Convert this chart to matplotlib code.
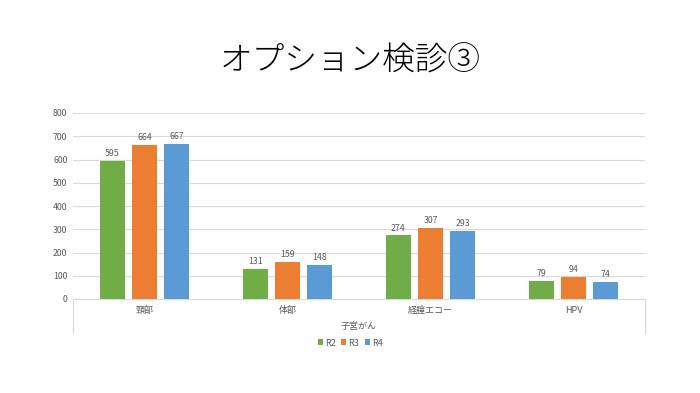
import numpy as np
import matplotlib
matplotlib.use('Agg')
import matplotlib.pyplot as plt

plt.rcParams['font.family'] = ['Noto Sans CJK JP', 'DejaVu Sans']

categories = ['頸部', '体部', '経膣エコー', 'HPV']
series = ['R2', 'R3', 'R4']
r2 = [595, 131, 274, 79]
r3 = [664, 159, 307, 94]
r4 = [667, 148, 293, 74]
colors = ['#70ad47', '#ed7d31', '#5b9bd5']
title = 'オプション検診③'
group_label = '子宮がん'

text_col = '#595959'
grid_col = '#d9d9d9'

fig = plt.figure(figsize=(7, 3.93), dpi=100)
ax = fig.add_axes([73 / 700, 94 / 393, 572 / 700, 186 / 393])

x = np.arange(len(categories))
width = 0.175
step = 0.224
for i, (name, vals, col) in enumerate(zip(series, [r2, r3, r4], colors)):
    pos = x + (i - 1) * step
    bars = ax.bar(pos, vals, width, color=col, label=name, zorder=3)
    for b, v in zip(bars, vals):
        ax.text(b.get_x() + b.get_width() / 2, v + 12, str(v), ha='center', va='bottom',
                fontsize=6.3, color=text_col)

ax.set_xlim(-0.5, len(categories) - 0.5)
ax.set_ylim(0, 800)
ax.set_yticks(np.arange(0, 801, 100))
ax.tick_params(axis='y', length=0, labelsize=6.3, labelcolor=text_col, pad=4)
ax.tick_params(axis='x', length=0, labelsize=6.5, labelcolor=text_col, pad=5)
ax.set_xticks(x)
ax.set_xticklabels(categories)
ax.grid(axis='y', color=grid_col, linewidth=0.8, zorder=0)
for s in ['top', 'right', 'left']:
    ax.spines[s].set_visible(False)
ax.spines['bottom'].set_color(grid_col)
ax.spines['bottom'].set_linewidth(0.8)

# multi-level category axis frame
for xa in [0, 1]:
    ax.plot([xa, xa], [0, -0.185], transform=ax.transAxes, color=grid_col,
            linewidth=0.8, clip_on=False)
ax.text(0.5, -0.15, group_label, transform=ax.transAxes, ha='center', va='center',
        fontsize=6.5, color=text_col)

fig.text(0.5, 1 - 61 / 393, title, ha='center', va='center', fontsize=23.5,
         color='#000000', fontweight='light')

fig.legend(loc='center', bbox_to_anchor=(0.5, 1 - 343 / 393), ncol=3, frameon=False,
           fontsize=6.5, handlelength=0.6, handleheight=0.6, handletextpad=0.2,
           columnspacing=0.6, labelcolor=text_col)

fig.savefig('out.png', dpi=100)
